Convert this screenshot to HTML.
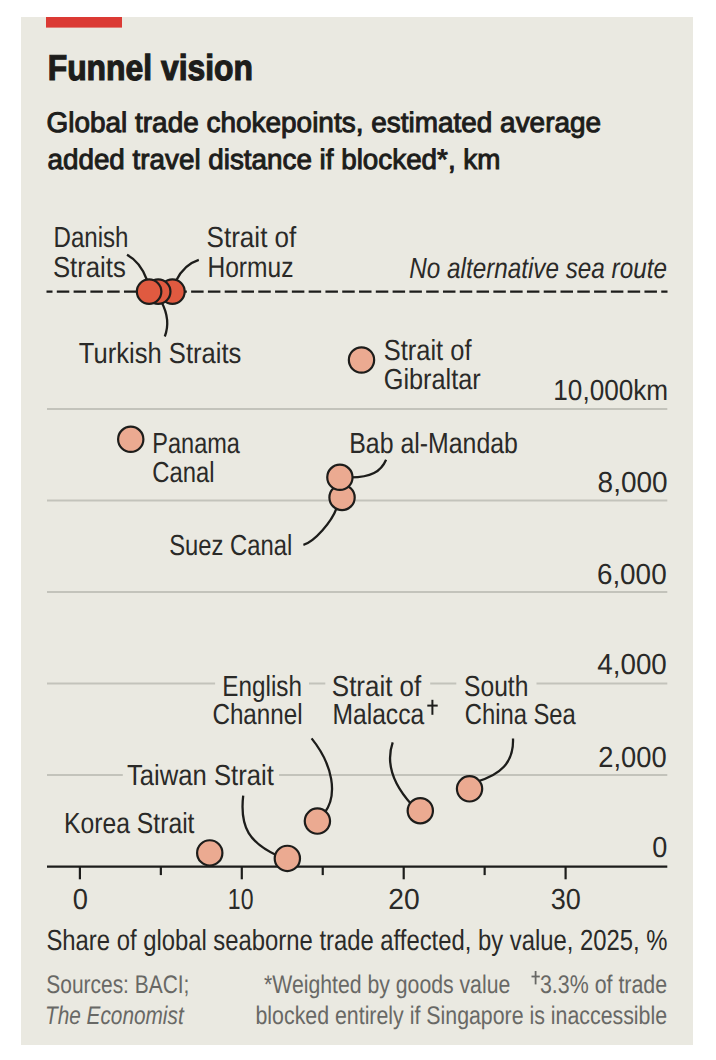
<!DOCTYPE html>
<html><head><meta charset="utf-8"><style>
html,body{margin:0;padding:0;background:#fff;}
svg{display:block;}
text{font-family:"Liberation Sans",sans-serif;text-rendering:geometricPrecision;}
</style></head><body>
<svg width="716" height="1060" viewBox="0 0 716 1060">
<rect x="0" y="0" width="716" height="1060" fill="#ffffff"/>
<rect x="21" y="17" width="672" height="1028" fill="#eae9e1"/>
<rect class="g" x="46" y="17" width="76" height="10.6" fill="#db3a34"/>
<line class="g" x1="47.0" y1="409.1" x2="667.3" y2="409.1" stroke="#c3c3bb" stroke-width="2"/>
<line class="g" x1="47.0" y1="500.6" x2="667.3" y2="500.6" stroke="#c3c3bb" stroke-width="2"/>
<line class="g" x1="47.0" y1="592.0" x2="667.3" y2="592.0" stroke="#c3c3bb" stroke-width="2"/>
<line class="g" x1="47.0" y1="683.5" x2="215.1" y2="683.5" stroke="#c3c3bb" stroke-width="2"/>
<line class="g" x1="309.0" y1="683.5" x2="325.3" y2="683.5" stroke="#c3c3bb" stroke-width="2"/>
<line class="g" x1="430.2" y1="683.5" x2="456.3" y2="683.5" stroke="#c3c3bb" stroke-width="2"/>
<line class="g" x1="536.5" y1="683.5" x2="667.3" y2="683.5" stroke="#c3c3bb" stroke-width="2"/>
<line class="g" x1="47.0" y1="775.0" x2="122.8" y2="775.0" stroke="#c3c3bb" stroke-width="2"/>
<line class="g" x1="279.1" y1="775.0" x2="667.3" y2="775.0" stroke="#c3c3bb" stroke-width="2"/>
<line class="g" x1="46.5" y1="291.6" x2="667.5" y2="291.6" stroke="#1d1d1b" stroke-width="2.2" stroke-dasharray="12.5 4.29" stroke-dashoffset="6.49"/>
<line class="g" x1="47" y1="866.6" x2="667.3" y2="866.6" stroke="#1d1d1b" stroke-width="2.2"/>
<line class="g" x1="79.90" y1="866" x2="79.90" y2="879.30" stroke="#1d1d1b" stroke-width="2.2"/>
<line class="g" x1="160.85" y1="866" x2="160.85" y2="875.10" stroke="#1d1d1b" stroke-width="2.2"/>
<line class="g" x1="241.80" y1="866" x2="241.80" y2="879.30" stroke="#1d1d1b" stroke-width="2.2"/>
<line class="g" x1="322.75" y1="866" x2="322.75" y2="875.10" stroke="#1d1d1b" stroke-width="2.2"/>
<line class="g" x1="403.70" y1="866" x2="403.70" y2="879.30" stroke="#1d1d1b" stroke-width="2.2"/>
<line class="g" x1="484.65" y1="866" x2="484.65" y2="875.10" stroke="#1d1d1b" stroke-width="2.2"/>
<line class="g" x1="565.60" y1="866" x2="565.60" y2="879.30" stroke="#1d1d1b" stroke-width="2.2"/>
<path class="g" d="M127,254.75 Q140.5,262 147,280" fill="none" stroke="#1d1d1b" stroke-width="2.3"/>
<path class="g" d="M198.8,259.8 Q184,264.5 176.2,280.5" fill="none" stroke="#1d1d1b" stroke-width="2.3"/>
<path class="g" d="M161.5,302 Q171,320 164.8,336.5" fill="none" stroke="#1d1d1b" stroke-width="2.3"/>
<path class="g" d="M386.1,459.7 C381,471.5 371,477.6 350,477.4" fill="none" stroke="#1d1d1b" stroke-width="2.3"/>
<path class="g" d="M337,507 C332,522 314,542 303.4,544.8" fill="none" stroke="#1d1d1b" stroke-width="2.3"/>
<path class="g" d="M243.2,795.6 C239.5,828 250,843 278,856" fill="none" stroke="#1d1d1b" stroke-width="2.3"/>
<path class="g" d="M311.6,738.4 C333,765 338,795 324.5,813" fill="none" stroke="#1d1d1b" stroke-width="2.3"/>
<path class="g" d="M392.7,742.4 C386,762 391,782 412,805" fill="none" stroke="#1d1d1b" stroke-width="2.3"/>
<path class="g" d="M513,738.45 C514,763 500,775 476,782" fill="none" stroke="#1d1d1b" stroke-width="2.3"/>
<circle class="g" cx="172.45" cy="291.60" r="12.25" fill="#e05a40" stroke="#1d1d1b" stroke-width="2.20"/>
<circle class="g" cx="158.20" cy="291.60" r="12.25" fill="#e05a40" stroke="#1d1d1b" stroke-width="2.20"/>
<circle class="g" cx="149.10" cy="291.60" r="12.25" fill="#e05a40" stroke="#1d1d1b" stroke-width="2.20"/>
<circle class="g" cx="361.50" cy="360.00" r="12.65" fill="#ebaa91" stroke="#1d1d1b" stroke-width="2.20"/>
<circle class="g" cx="130.75" cy="439.30" r="12.65" fill="#ebaa91" stroke="#1d1d1b" stroke-width="2.20"/>
<circle class="g" cx="342.05" cy="497.45" r="12.65" fill="#ebaa91" stroke="#1d1d1b" stroke-width="2.20"/>
<circle class="g" cx="339.90" cy="477.30" r="12.65" fill="#ebaa91" stroke="#1d1d1b" stroke-width="2.20"/>
<circle class="g" cx="209.75" cy="852.90" r="12.65" fill="#ebaa91" stroke="#1d1d1b" stroke-width="2.20"/>
<circle class="g" cx="287.35" cy="858.40" r="12.65" fill="#ebaa91" stroke="#1d1d1b" stroke-width="2.20"/>
<circle class="g" cx="317.40" cy="821.10" r="12.65" fill="#ebaa91" stroke="#1d1d1b" stroke-width="2.20"/>
<circle class="g" cx="420.30" cy="810.70" r="12.65" fill="#ebaa91" stroke="#1d1d1b" stroke-width="2.20"/>
<circle class="g" cx="469.55" cy="788.85" r="12.65" fill="#ebaa91" stroke="#1d1d1b" stroke-width="2.20"/>
<text id="title" x="47.68" y="80.20" font-size="36" fill="#1d1d1b" font-weight="bold" stroke="#1d1d1b" stroke-width="1.2" textLength="205.33" lengthAdjust="spacingAndGlyphs">Funnel vision</text>
<text id="sub1" x="46.50" y="132.40" font-size="28.4" fill="#1d1d1b" stroke="#1d1d1b" stroke-width="1.0" textLength="554.60" lengthAdjust="spacingAndGlyphs">Global trade chokepoints, estimated average</text>
<text id="sub2" x="47.50" y="168.50" font-size="28.4" fill="#1d1d1b" stroke="#1d1d1b" stroke-width="1.0" textLength="452.92" lengthAdjust="spacingAndGlyphs">added travel distance if blocked*, km</text>
<text id="danish" x="53.54" y="247.20" font-size="29" fill="#2a2a28"  textLength="74.99" lengthAdjust="spacingAndGlyphs">Danish</text>
<text id="straits" x="52.91" y="276.60" font-size="29" fill="#2a2a28"  textLength="72.95" lengthAdjust="spacingAndGlyphs">Straits</text>
<text id="hor1" x="206.60" y="247.30" font-size="29" fill="#2a2a28"  textLength="89.75" lengthAdjust="spacingAndGlyphs">Strait of</text>
<text id="hor2" x="207.49" y="276.50" font-size="29" fill="#2a2a28"  textLength="85.93" lengthAdjust="spacingAndGlyphs">Hormuz</text>
<text id="noalt" x="409.30" y="278.40" font-size="29" fill="#2a2a28" font-style="italic" textLength="257.61" lengthAdjust="spacingAndGlyphs">No alternative sea route</text>
<text id="turk" x="78.80" y="363.20" font-size="29" fill="#2a2a28"  textLength="162.54" lengthAdjust="spacingAndGlyphs">Turkish Straits</text>
<text id="gib1" x="383.76" y="360.20" font-size="29" fill="#2a2a28"  textLength="87.73" lengthAdjust="spacingAndGlyphs">Strait of</text>
<text id="gib2" x="383.72" y="389.00" font-size="29" fill="#2a2a28"  textLength="96.99" lengthAdjust="spacingAndGlyphs">Gibraltar</text>
<text id="y10" x="553.33" y="400.40" font-size="29" fill="#2a2a28"  textLength="114.80" lengthAdjust="spacingAndGlyphs">10,000km</text>
<text id="pan1" x="152.33" y="452.70" font-size="29" fill="#2a2a28"  textLength="87.52" lengthAdjust="spacingAndGlyphs">Panama</text>
<text id="pan2" x="152.19" y="481.60" font-size="29" fill="#2a2a28"  textLength="62.25" lengthAdjust="spacingAndGlyphs">Canal</text>
<text id="bab" x="349.29" y="452.60" font-size="29" fill="#2a2a28"  textLength="168.58" lengthAdjust="spacingAndGlyphs">Bab al-Mandab</text>
<text id="y8" x="597.58" y="492.30" font-size="29" fill="#2a2a28"  textLength="70.04" lengthAdjust="spacingAndGlyphs">8,000</text>
<text id="suez" x="169.17" y="555.20" font-size="29" fill="#2a2a28"  textLength="123.03" lengthAdjust="spacingAndGlyphs">Suez Canal</text>
<text id="y6" x="596.89" y="584.00" font-size="29" fill="#2a2a28"  textLength="69.76" lengthAdjust="spacingAndGlyphs">6,000</text>
<text id="y4" x="597.30" y="674.30" font-size="29" fill="#2a2a28"  textLength="69.48" lengthAdjust="spacingAndGlyphs">4,000</text>
<text id="eng1" x="222.36" y="695.70" font-size="29" fill="#2a2a28"  textLength="79.59" lengthAdjust="spacingAndGlyphs">English</text>
<text id="eng2" x="212.42" y="724.40" font-size="29" fill="#2a2a28"  textLength="90.24" lengthAdjust="spacingAndGlyphs">Channel</text>
<text id="mal1" x="331.87" y="695.50" font-size="29" fill="#2a2a28"  textLength="89.35" lengthAdjust="spacingAndGlyphs">Strait of</text>
<text id="mal2" x="332.48" y="724.30" font-size="29" fill="#2a2a28"  textLength="91.73" lengthAdjust="spacingAndGlyphs">Malacca</text>
<text id="scs1" x="464.05" y="695.60" font-size="29" fill="#2a2a28"  textLength="64.34" lengthAdjust="spacingAndGlyphs">South</text>
<text id="scs2" x="464.75" y="724.30" font-size="29" fill="#2a2a28"  textLength="111.06" lengthAdjust="spacingAndGlyphs">China Sea</text>
<text id="y2" x="598.27" y="767.20" font-size="29" fill="#2a2a28"  textLength="68.33" lengthAdjust="spacingAndGlyphs">2,000</text>
<text id="taiwan" x="127.00" y="784.90" font-size="29" fill="#2a2a28"  textLength="146.79" lengthAdjust="spacingAndGlyphs">Taiwan Strait</text>
<text id="korea" x="64.11" y="833.10" font-size="29" fill="#2a2a28"  textLength="130.38" lengthAdjust="spacingAndGlyphs">Korea Strait</text>
<text id="y0" x="652.29" y="856.50" font-size="29" fill="#2a2a28"  textLength="15.06" lengthAdjust="spacingAndGlyphs">0</text>
<text id="x0" x="72.71" y="909.10" font-size="29" fill="#2a2a28"  textLength="15.19" lengthAdjust="spacingAndGlyphs">0</text>
<text id="x10" x="227.84" y="909.10" font-size="29" fill="#2a2a28"  textLength="25.61" lengthAdjust="spacingAndGlyphs">10</text>
<text id="x20" x="388.23" y="909.10" font-size="29" fill="#2a2a28"  textLength="31.41" lengthAdjust="spacingAndGlyphs">20</text>
<text id="x30" x="550.73" y="909.10" font-size="29" fill="#2a2a28"  textLength="30.05" lengthAdjust="spacingAndGlyphs">30</text>
<text id="xtitle" x="46.40" y="950.00" font-size="29" fill="#2a2a28"  textLength="621.11" lengthAdjust="spacingAndGlyphs">Share of global seaborne trade affected, by value, 2025, %</text>
<text id="src1" x="46.33" y="992.90" font-size="25.5" fill="#686865"  textLength="143.10" lengthAdjust="spacingAndGlyphs">Sources: BACI;</text>
<text id="src2" x="44.93" y="1023.60" font-size="25.5" fill="#686865" font-style="italic" textLength="138.75" lengthAdjust="spacingAndGlyphs">The Economist</text>
<text id="note1" x="264.00" y="992.60" font-size="25.5" fill="#686865"  textLength="246.26" lengthAdjust="spacingAndGlyphs">*Weighted by goods value</text>
<text id="note2" x="539.96" y="992.60" font-size="25.5" fill="#686865"  textLength="127.18" lengthAdjust="spacingAndGlyphs">3.3% of trade</text>
<text id="note3" x="255.49" y="1023.70" font-size="25.5" fill="#686865"  textLength="411.61" lengthAdjust="spacingAndGlyphs">blocked entirely if Singapore is inaccessible</text>
<g class="g" stroke="#1d1d1b" stroke-width="2"><line x1="432.4" y1="699.8" x2="432.4" y2="714.8"/><line x1="427.3" y1="705.6" x2="437.7" y2="705.6"/></g>
<g class="g" stroke="#686865" stroke-width="1.8"><line x1="535.6" y1="971" x2="535.6" y2="984.4"/><line x1="531.5" y1="976.5" x2="539.8" y2="976.5"/></g>
</svg>
</body></html>
